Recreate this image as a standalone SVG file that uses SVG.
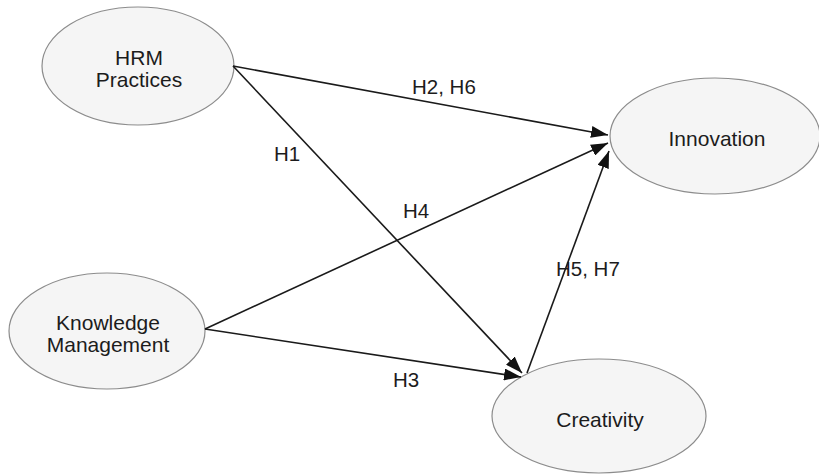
<svg xmlns="http://www.w3.org/2000/svg" width="819" height="474" viewBox="0 0 819 474">
<style>
.node ellipse{fill:#f5f5f5;stroke:#8c8c8c;stroke-width:1.2}
.node text{font-family:"Liberation Sans",Arial,sans-serif;font-size:21px;fill:#1c1c1c;text-anchor:middle}
.edges line{stroke:#1a1a1a;stroke-width:1.6;marker-end:url(#ah)}
.lbl{font-family:"Liberation Sans",Arial,sans-serif;font-size:20.5px;fill:#1c1c1c}
</style>
<defs>
<marker id="ah" markerUnits="userSpaceOnUse" markerWidth="18" markerHeight="12" viewBox="0 0 18 12" refX="17" refY="6" orient="auto">
<path d="M0,0 L17,6 L0,12 Z" fill="#111"/>
</marker>
</defs>
<rect width="819" height="474" fill="#fff"/>
<g id="hrm" class="node"><ellipse cx="138" cy="66" rx="96" ry="59"/><text x="139" y="65">HRM</text><text x="139" y="87">Practices</text></g>
<g id="innovation" class="node"><ellipse cx="715" cy="136" rx="105" ry="58"/><text x="717" y="146">Innovation</text></g>
<g id="knowledge" class="node"><ellipse cx="107" cy="331" rx="98" ry="58"/><text x="108" y="330">Knowledge</text><text x="108" y="352">Management</text></g>
<g id="creativity" class="node"><ellipse cx="599" cy="416" rx="107" ry="57"/><text x="600" y="427">Creativity</text></g>
<g id="edges" class="edges">
<line x1="233" y1="66" x2="608" y2="135"/>
<line x1="233" y1="66" x2="522" y2="373"/>
<line x1="205" y1="329" x2="608" y2="143"/>
<line x1="205" y1="329" x2="521" y2="377"/>
<line x1="527" y1="373" x2="609" y2="151"/>
</g>
<g id="labels">
<text class="lbl" x="412" y="94">H2, H6</text>
<text class="lbl" x="274" y="161">H1</text>
<text class="lbl" x="403" y="218">H4</text>
<text class="lbl" x="393" y="387">H3</text>
<text class="lbl" x="556" y="276">H5, H7</text>
</g>
</svg>
